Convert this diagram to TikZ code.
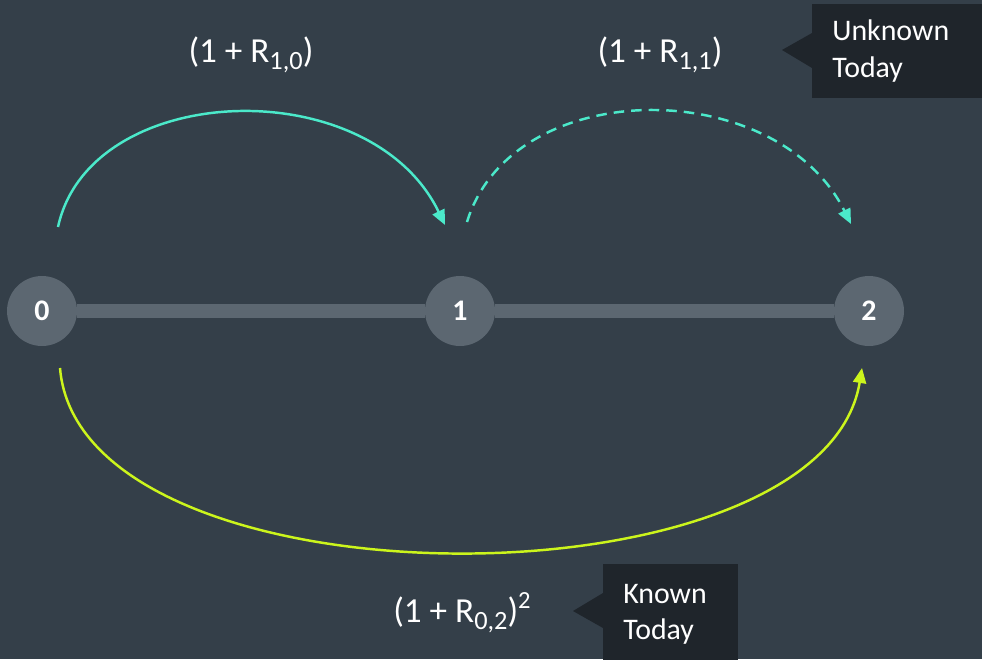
\documentclass[tikz,border=0pt]{standalone}
\usepackage{fontspec}
\setmainfont{Carlito}
\usetikzlibrary{positioning,calc,arrows.meta,backgrounds}
\definecolor{bgcol}{HTML}{343F49}
\definecolor{pointcol}{HTML}{5C6771}
\definecolor{tipcol}{HTML}{1F252B}
\definecolor{hopcol}{HTML}{4BE9CA}
\definecolor{longcol}{HTML}{CCF51C}
\newcommand{\ratesub}[1]{\raisebox{-4.5pt}{\fontsize{15}{15}\selectfont #1}}
\newcommand{\ratesup}[1]{\raisebox{7.5pt}{\fontsize{14}{14}\selectfont #1}}

\begin{document}
\begin{tikzpicture}[
    x=0.02cm, y=-0.02cm, % one unit is one pixel of the reference
    point/.style={
        circle,
        fill=pointcol,
        minimum size=1.4cm,
        inner sep=0pt,
        text=white,
        font=\fontsize{17}{20}\selectfont\bfseries
    },
    track/.style={
        draw=pointcol,
        line width=0.28cm
    },
    hop/.style={
        -{Triangle[length=0.3cm,width=0.26cm]},
        line width=1.4pt
    },
    rate/.style={
        text=white,
        font=\fontsize{20}{24}\selectfont
    },
    callout/.style={
        fill=tipcol,
        text=white,
        align=left,
        inner xsep=0.4cm,
        anchor=north west,
        font=\fontsize{17}{21}\selectfont
    }
]
    \useasboundingbox (0,0) rectangle (982,659);

    % --- Time points on the line ---
    \node[point] (n0) at (42,311)  {0};
    \node[point] (n1) at (460,311) {1};
    \node[point] (n2) at (869,311) {2};

    % --- Ends of the arcs ---
    \coordinate (s01) at ($(n0)+(16,-84)$);
    \coordinate (e01) at ($(n1)+(-15,-86)$);
    \coordinate (s12) at ($(n1)+(7,-89)$);
    \coordinate (e12) at ($(n2)+(-18,-87)$);
    \coordinate (s02) at ($(n0)+(18,57)$);
    \coordinate (e02) at ($(n2)+(-7,57)$);

    % --- Arcs ---
    \draw[hop, hopcol] (s01) .. controls +(32,-147) and +(-75,-155) .. (e01);
    \draw[hop, hopcol, dash pattern=on 6pt off 4pt] (s12) .. controls +(45,-147) and +(-75,-150) .. (e12);
    \draw[hop, longcol] (s02) .. controls +(20,245) and +(-40,245) .. (e02);

    % --- Rates ---
    \node[rate, anchor=base] (r10) at (251,62)  {(1 + R\ratesub{1,0})};
    \node[rate, anchor=base] (r11) at (660,62)  {(1 + R\ratesub{1,1})};
    \node[rate, anchor=base] (r02) at (462,622) {(1 + R\ratesub{0,2})\ratesup{2}};

    % --- Callouts ---
    \node[callout, text width=2.6cm, minimum height=1.88cm] (unknown) at (812,4) {Unknown\\Today};
    \fill[tipcol] ($(unknown.north west)+(0,29)$) -- ($(unknown.north west)+(-30,46)$)
        -- ($(unknown.north west)+(0,64)$) -- cycle;
    \node[callout, text width=1.9cm, minimum height=2cm] (known) at (603,564) {Known\\Today};
    \fill[tipcol] ($(known.north west)+(0,29)$) -- ($(known.north west)+(-30,47)$)
        -- ($(known.north west)+(0,64)$) -- cycle;

    % --- Background and line behind the points ---
    \begin{scope}[on background layer]
        \fill[bgcol] (0,0) rectangle (982,659);
        \draw[track] (n0) -- (n1) -- (n2);
    \end{scope}
\end{tikzpicture}
\end{document}
